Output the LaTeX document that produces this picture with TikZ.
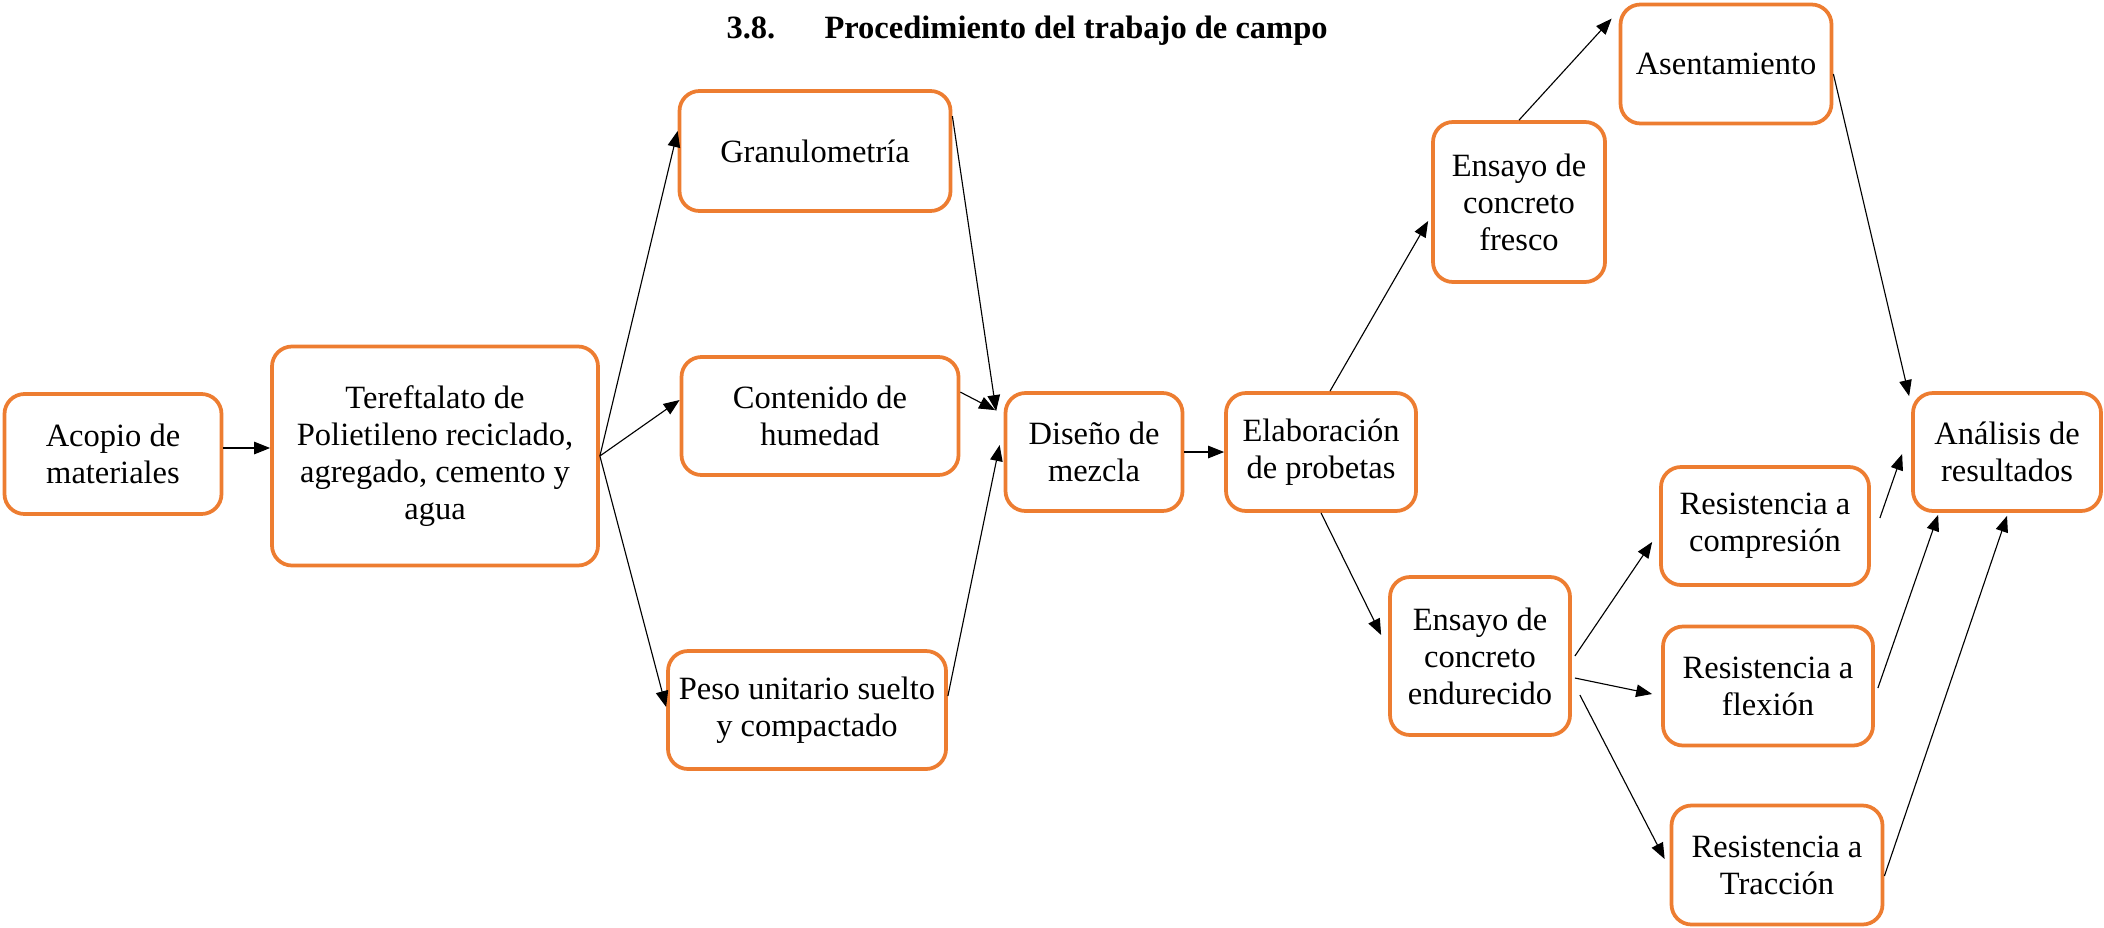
\documentclass[tikz,border=0pt]{standalone}
\usepackage{fontspec}
\setmainfont{Liberation Serif}
\usetikzlibrary{arrows.meta,calc}
\definecolor{boxorange}{RGB}{237,125,49}
\begin{document}
\begin{tikzpicture}[x=0.4pt,y=-0.4pt,
 box/.style={draw=boxorange,line width=1.5pt,rounded corners=8pt,align=center,inner sep=0pt,font=\fontsize{13}{14.8}\selectfont},
 arr/.style={-{Triangle[length=6.4pt,width=5pt]},line width=0.45pt},
 titlefont/.style={font=\bfseries\fontsize{13}{15}\selectfont,anchor=base west,inner sep=0pt}
]
\useasboundingbox (0,0) rectangle (2104,927);
\node[titlefont] (num) at (726,38) {3.8.};
\node[titlefont] (title) at (824,38) {Procedimiento del trabajo de campo};

\node[box,minimum width=86.8pt,minimum height=48pt] (acop) at (113,454) {Acopio de\\materiales};
\node[box,minimum width=130.4pt,minimum height=87.6pt] (tere) at (435,456) {Tereftalato de\\Polietileno reciclado,\\agregado, cemento y\\agua};
\node[box,minimum width=108.4pt,minimum height=48pt] (gran) at (815,151) {Granulometría};
\node[box,minimum width=110.8pt,minimum height=47.2pt] (cont) at (820,416) {Contenido de\\humedad};
\node[box,minimum width=111.2pt,minimum height=47.2pt] (peso) at (807,710) {Peso unitario suelto\\y compactado};
\node[box,minimum width=70.8pt,minimum height=47.2pt] (dis) at (1094,452) {Diseño de\\mezcla};
\node[box,minimum width=76pt,minimum height=47.2pt] (elab) at (1321,452) {Elaboración\\de probetas};
\node[box,minimum width=68.8pt,minimum height=64pt] (fres) at (1519,202) {Ensayo de\\concreto\\fresco};
\node[box,minimum width=84.4pt,minimum height=47.6pt] (asen) at (1726,64) {Asentamiento};
\node[box,minimum width=75.2pt,minimum height=47.2pt] (anal) at (2007,452) {Análisis de\\resultados};
\node[box,minimum width=72pt,minimum height=63.2pt] (endu) at (1480,656) {Ensayo de\\concreto\\endurecido};
\node[box,minimum width=83.2pt,minimum height=47.2pt] (comp) at (1765,526) {Resistencia a\\compresión};
\node[box,minimum width=84pt,minimum height=47.6pt] (flex) at (1768,686) {Resistencia a\\flexión};
\node[box,minimum width=84.4pt,minimum height=47.6pt] (trac) at (1777,865) {Resistencia a\\Tracción};

\draw[arr] ([yshift=2.4pt]acop.east) -- ([yshift=2.4pt]acop.east -| tere.west);
\draw[arr] (tere.east) -- ([yshift=8pt]gran.west);
\draw[arr] (tere.east) -- ([yshift=6.4pt]cont.west);
\draw[arr] (tere.east) -- ([yshift=1.2pt]peso.west);
\draw[arr] ([yshift=-10.8pt]gran.north east) -- ([xshift=-3pt,yshift=-8pt]dis.north west);
\draw[arr] ([yshift=-14.8pt]cont.north east) -- ([xshift=-3.4pt,yshift=-7.6pt]dis.north west);
\draw[arr] ([yshift=5.6pt]peso.east) -- ([xshift=-1.6pt,yshift=2.8pt]dis.west);
\draw[arr] (dis.east) -- (dis.east -| elab.west);
\draw[arr] ([xshift=3.6pt]elab.north) -- ([xshift=-1.2pt,yshift=-7.6pt]fres.west);
\draw[arr] (fres.north) -- ([xshift=-2.8pt,yshift=-6.4pt]asen.north west);
\draw[arr] ([yshift=-4pt]asen.east) -- ([xshift=-0.8pt,yshift=-2pt]anal.north west);
\draw[arr] (elab.south) -- ([xshift=-2.8pt,yshift=8.4pt]endu.west);
\draw[arr] ([xshift=1.2pt]endu.east) -- ([xshift=-2.8pt,yshift=-6.4pt]comp.west);
\draw[arr] ([xshift=1.2pt,yshift=-8.8pt]endu.east) -- ([xshift=-3.6pt,yshift=-3.2pt]flex.west);
\draw[arr] ([xshift=3.2pt,yshift=-15.6pt]endu.east) -- ([xshift=-2pt,yshift=2.4pt]trac.west);
\draw[arr] ([xshift=3.6pt,yshift=3.2pt]comp.east) -- ([xshift=-3.6pt,yshift=-0.8pt]anal.west);
\draw[arr] ([xshift=1.2pt,yshift=-0.8pt]flex.east) -- ([xshift=10.8pt,yshift=-0.8pt]anal.south west);
\draw[arr] ([yshift=-4.4pt]trac.east) -- ([yshift=-1.2pt]anal.south);
\end{tikzpicture}
\end{document}
